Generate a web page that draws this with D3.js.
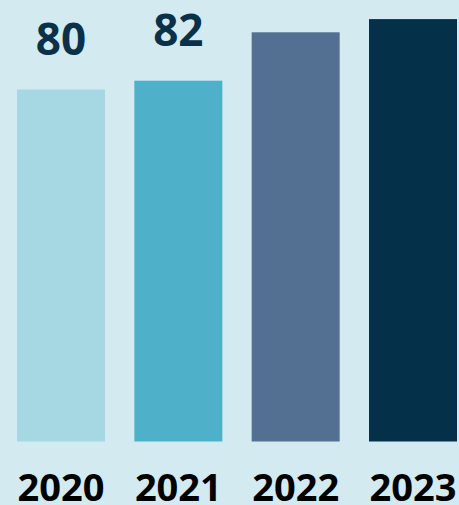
<!DOCTYPE html>
<meta charset="utf-8">
<head>
  <title>bars by year</title>
  <style>
    body { margin: 0; background: #d3ebf0; }
    svg { display: block; }
  </style>
</head>

<script src="https://d3js.org/d3.v7.min.js"></script>

<div id="my_dataviz"></div>

<script>

// data
var years = ["2020", "2021", "2022", "2023"];
var values = [80, 82, 93, 96];
var colors = ["#a6d8e3", "#4fb1c9", "#537093", "#053049"];

var width = 459,
    height = 505;

var svg = d3.select("#my_dataviz")
  .append("svg")
    .attr("width", width)
    .attr("height", height)
    .style("background", "#d3ebf0");

// x scale for the bars
var x = d3.scaleBand()
  .domain(years)
  .range([17, 457])
  .paddingInner(0.25)
  .paddingOuter(0);

// y scale, bars end at 441.5
var y = d3.scaleLinear()
  .domain([0, 100])
  .range([441.5, 1.5]);

// bars
svg.selectAll("rect.bar")
  .data(years)
  .enter()
  .append("rect")
    .attr("class", "bar")
    .attr("x", function(d) { return x(d); })
    .attr("y", function(d, i) { return y(values[i]); })
    .attr("width", x.bandwidth())
    .attr("height", function(d, i) { return y(0) - y(values[i]); })
    .attr("fill", function(d, i) { return colors[i]; });

// value labels above the bars (the tall ones run off the top, so skip them)
var labelGap = 35, labelSize = 44;
var labelled = years.filter(function(d, i) {
  return y(values[i]) - labelGap - labelSize * 0.72 >= 0;
});

svg.selectAll("text.value")
  .data(labelled)
  .enter()
  .append("text")
    .attr("class", "value")
    .attr("x", function(d) { return x(d) + x.bandwidth() / 2; })
    .attr("y", function(d) { return y(values[years.indexOf(d)]) - labelGap; })
    .attr("text-anchor", "middle")
    .style("font-family", "'Open Sans', sans-serif")
    .style("font-weight", "bold")
    .style("font-size", labelSize + "px")
    .style("fill", "#0a3149")
    .text(function(d) { return values[years.indexOf(d)]; });

// year labels under the bars
var xAxis = svg.append("g")
  .attr("transform", "translate(0," + y(0) + ")")
  .call(d3.axisBottom(x).tickSize(0).tickPadding(0));

xAxis.select(".domain").remove();
xAxis.selectAll("text")
  .attr("dy", null)
  .attr("y", 59.5)
  .style("font-family", "'Open Sans', sans-serif")
  .style("font-weight", "bold")
  .style("font-size", "38px")
  .style("fill", "#000");

</script>
